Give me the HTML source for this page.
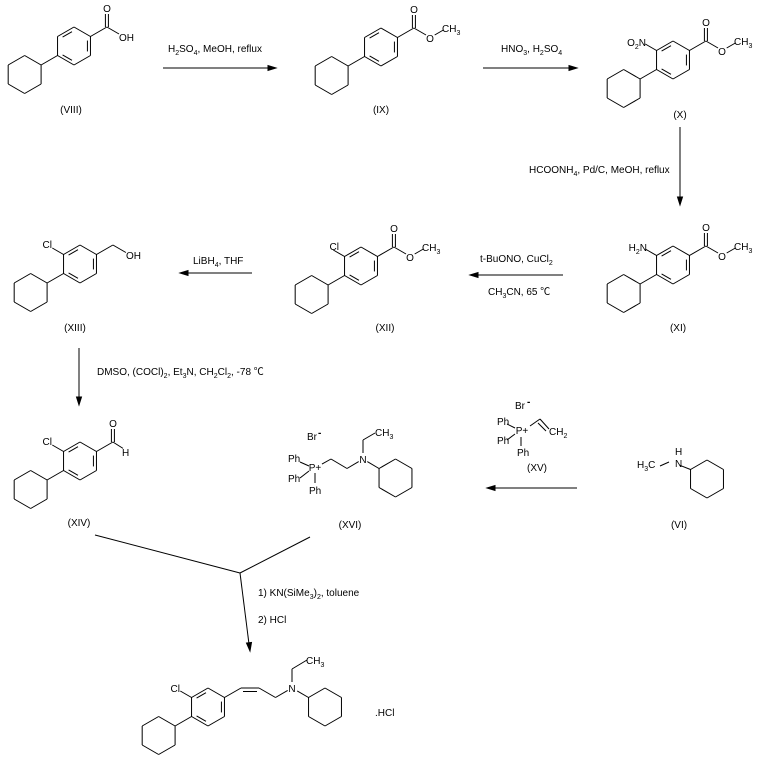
<!DOCTYPE html>
<html><head><meta charset="utf-8"><style>
html,body{margin:0;padding:0;background:#fff}
svg{display:block;font-family:"Liberation Sans","Noto Sans CJK SC",sans-serif;font-size:10px}
text{fill:#000}
.s{font-size:7px}
</style></head><body>
<svg id="s" width="758" height="764" viewBox="0 0 758 764" xmlns="http://www.w3.org/2000/svg">
<g id="g" stroke="#000" stroke-width="1" fill="none"></g>
<g stroke="#000" stroke-width="1">
<line x1="163" y1="68" x2="270" y2="68"/><polygon points="276,68 268,65.5 268,70.5" fill="#000"/>
<line x1="483" y1="68" x2="571" y2="68"/><polygon points="577,68 569,65.5 569,70.5" fill="#000"/>
<line x1="680" y1="127" x2="680" y2="199"/><polygon points="680,205 677.5,197 682.5,197" fill="#000"/>
<line x1="563" y1="275" x2="476" y2="275"/><polygon points="470,275 478,272.5 478,277.5" fill="#000"/>
<line x1="252" y1="273" x2="186" y2="273"/><polygon points="180,273 188,270.5 188,275.5" fill="#000"/>
<line x1="79" y1="348" x2="79" y2="399"/><polygon points="79,405 76.5,397 81.5,397" fill="#000"/>
<line x1="577" y1="488" x2="493" y2="488"/><polygon points="487,488 495,485.5 495,490.5" fill="#000"/>
<line x1="95" y1="535" x2="240" y2="573"/><line x1="310" y1="537" x2="240" y2="573"/>
<line x1="240" y1="573" x2="249" y2="644"/><polygon points="250,651 246.5,643 251.5,642.5" fill="#000"/>
</g>
<!-- reagents -->
<text x="168" y="52">H<tspan class="s" dy="3">2</tspan><tspan dy="-3">SO</tspan><tspan class="s" dy="3">4</tspan><tspan dy="-3">, MeOH, reflux</tspan></text>
<text x="501" y="52">HNO<tspan class="s" dy="3">3</tspan><tspan dy="-3">, H</tspan><tspan class="s" dy="3">2</tspan><tspan dy="-3">SO</tspan><tspan class="s" dy="3">4</tspan></text>
<text x="529" y="173">HCOONH<tspan class="s" dy="3">4</tspan><tspan dy="-3">, Pd/C, MeOH, reflux</tspan></text>
<text x="480" y="262">t-BuONO, CuCl<tspan class="s" dy="3">2</tspan></text>
<text x="488" y="295">CH<tspan class="s" dy="3">3</tspan><tspan dy="-3">CN, 65 ℃</tspan></text>
<text x="193" y="264">LiBH<tspan class="s" dy="3">4</tspan><tspan dy="-3">, THF</tspan></text>
<text x="97" y="375">DMSO, (COCl)<tspan class="s" dy="3">2</tspan><tspan dy="-3">, Et</tspan><tspan class="s" dy="3">3</tspan><tspan dy="-3">N, CH</tspan><tspan class="s" dy="3">2</tspan><tspan dy="-3">Cl</tspan><tspan class="s" dy="3">2</tspan><tspan dy="-3">, -78 ℃</tspan></text>
<text x="258" y="596">1) KN(SiMe<tspan class="s" dy="3">3</tspan><tspan dy="-3">)</tspan><tspan class="s" dy="3">2</tspan><tspan dy="-3">, toluene</tspan></text>
<text x="258" y="623">2) HCl</text>
<!-- compound labels -->
<text x="71" y="113" text-anchor="middle">(VIII)</text>
<text x="381" y="113" text-anchor="middle">(IX)</text>
<text x="680" y="118" text-anchor="middle">(X)</text>
<text x="678" y="331" text-anchor="middle">(XI)</text>
<text x="385" y="331" text-anchor="middle">(XII)</text>
<text x="75" y="331" text-anchor="middle">(XIII)</text>
<text x="79" y="526" text-anchor="middle">(XIV)</text>
<text x="350" y="528" text-anchor="middle">(XVI)</text>
<text x="537" y="471" text-anchor="middle">(XV)</text>
<text x="679" y="528" text-anchor="middle">(VI)</text>
<!-- atoms -->
<text x="107" y="12" text-anchor="middle">O</text><text x="119" y="41">OH</text>
<text x="414" y="13" text-anchor="middle">O</text><text x="430" y="42" text-anchor="middle">O</text><text x="442" y="32">CH<tspan class="s" dy="3">3</tspan></text>
<text x="706" y="26" text-anchor="middle">O</text><text x="722" y="55" text-anchor="middle">O</text><text x="734" y="45">CH<tspan class="s" dy="3">3</tspan></text>
<text x="646" y="46" text-anchor="end">O<tspan class="s" dy="3">2</tspan><tspan dy="-3">N</tspan></text>
<text x="706" y="231" text-anchor="middle">O</text><text x="722" y="260" text-anchor="middle">O</text><text x="734" y="250">CH<tspan class="s" dy="3">3</tspan></text>
<text x="647" y="251" text-anchor="end">H<tspan class="s" dy="3">2</tspan><tspan dy="-3">N</tspan></text>
<text x="394" y="232" text-anchor="middle">O</text><text x="410" y="261" text-anchor="middle">O</text><text x="422" y="251">CH<tspan class="s" dy="3">3</tspan></text>
<text x="339" y="250" text-anchor="end">Cl</text>
<text x="126" y="259">OH</text><text x="52" y="248" text-anchor="end">Cl</text>
<text x="113" y="427" text-anchor="middle">O</text><text x="122" y="456">H</text><text x="52" y="445" text-anchor="end">Cl</text>
<text x="180" y="692" text-anchor="end">Cl</text>
<text x="292" y="692" text-anchor="middle">N</text><text x="306" y="664">CH<tspan class="s" dy="3">3</tspan></text>
<text x="375" y="716">.HCl</text>
<text x="307" y="440">Br</text><text x="318" y="436" font-weight="bold">-</text>
<text x="288" y="462">Ph</text><text x="288" y="482">Ph</text><text x="309" y="494">Ph</text>
<text x="315" y="471" text-anchor="middle">P+</text>
<text x="363" y="463" text-anchor="middle">N</text><text x="375" y="436">CH<tspan class="s" dy="3">3</tspan></text>
<text x="515" y="409">Br</text><text x="527" y="405" font-weight="bold">-</text>
<text x="497" y="425">Ph</text><text x="497" y="444">Ph</text><text x="517" y="456">Ph</text>
<text x="522" y="434" text-anchor="middle">P+</text>
<text x="549" y="435">CH<tspan class="s" dy="3">2</tspan></text>
<text x="637" y="468">H<tspan class="s" dy="3">3</tspan><tspan dy="-3">C</tspan></text>
<text x="675" y="455">H</text><text x="675" y="467">N</text>
</svg>
<script>
var G=document.getElementById('g'),NS='http://www.w3.org/2000/svg';
function L(a,b,c,d){var l=document.createElementNS(NS,'line');l.setAttribute('x1',a);l.setAttribute('y1',b);l.setAttribute('x2',c);l.setAttribute('y2',d);G.appendChild(l);}
function LS(a,b,c,d,s1,s2){var dx=c-a,dy=d-b,n=Math.hypot(dx,dy);dx/=n;dy/=n;L(a+dx*s1,b+dy*s1,c-dx*s2,d-dy*s2);}
var R=19,H=R*0.866,h=R/2;
function V(cx,cy){var v=[];for(var k=0;k<6;k++){var t=(-90+60*k)*Math.PI/180;v.push([cx+R*Math.cos(t),cy+R*Math.sin(t)]);}return v;}
function ring(cx,cy,inner){var v=V(cx,cy);for(var k=0;k<6;k++){var a=v[k],b=v[(k+1)%6];L(a[0],a[1],b[0],b[1]);}
 if(inner){[[5,0],[1,2],[3,4]].forEach(function(e){var a=v[e[0]],b=v[e[1]];var f=3.5/R;var ax=a[0]+(cx-a[0])*f,ay=a[1]+(cy-a[1])*f,bx=b[0]+(cx-b[0])*f,by=b[1]+(cy-b[1])*f;var mx=(bx-ax)*0.15,my=(by-ay)*0.15;L(ax+mx,ay+my,bx-mx,by-my);});}return v;}
function dbl(a,b,c,d,o){var dx=c-a,dy=d-b,n=Math.hypot(dx,dy),px=-dy/n*o,py=dx/n*o;L(a+px,b+py,c+px,d+py);L(a-px,b-py,c-px,d-py);}
function aryl(cx,cy,left){var v=ring(cx,cy,true);var a=[v[4][0]-H,v[4][1]+h];L(v[4][0],v[4][1],a[0],a[1]);ring(a[0]-H,a[1]+h,false);
 if(left)LS(v[5][0],v[5][1],v[5][0]-H,v[5][1]-h,0,6);return v;}
function ester(v,me){var C=[v[1][0]+H,v[1][1]-h];L(v[1][0],v[1][1],C[0],C[1]);dbl(C[0],C[1],C[0],C[1]-13,1.5);
 var O=[C[0]+H,C[1]+h];LS(C[0],C[1],O[0],O[1],0,5);if(me)LS(O[0],O[1],O[0]+H,O[1]-h,5,4);}
// VIII
var v=aryl(74,46,false);ester(v,false);
// IX
v=aryl(381,47,false);ester(v,true);
// X
v=aryl(673,60,true);ester(v,true);
// XI
v=aryl(673,265,true);ester(v,true);
// XII
v=aryl(361,266,true);ester(v,true);
// XIII
v=aryl(80,264,true);L(v[1][0],v[1][1],v[1][0]+H,v[1][1]-h);LS(v[1][0]+H,v[1][1]-h,v[1][0]+2*H,v[1][1],0,4);
// XIV
v=aryl(80,461,true);var C=[v[1][0]+H,v[1][1]-h];L(v[1][0],v[1][1],C[0],C[1]);dbl(C[0],C[1],C[0],C[1]-13,1.5);LS(C[0],C[1],C[0]+H-3,C[1]+h-1,0,4);
// final
v=aryl(208,707,true);L(v[1][0],v[1][1],241,688);L(241,688,259,688);L(243,691.5,257,691.5);L(259,688,275.5,697.5);LS(275.5,697.5,292,688,0,5);
LS(292,688,292,669,6,0);L(292,669,307,660);LS(292,688,308.5,697.5,6,0);ring(325,707,false);
// XVI
LS(315,468,331,459,8,0);L(331,459,347,468.5);LS(347,468.5,363,459,0,5);LS(363,459,363,440,6,0);L(363,440,375,433);LS(363,459,379,468.5,5,0);ring(395.5,478,false);
L(300,462,309,466);L(300,478,309,471);L(315,473,315,483);
// XV
L(507,424,515,428);L(507,440,515,434);L(521,437,521,446);L(530,426,540,419);L(540,419,549,429);L(538,423,546,431);
// VI
LS(674,463,690.5,469.5,6,0);ring(707,479,false);L(660,466,669,462);
</script>
</body></html>
